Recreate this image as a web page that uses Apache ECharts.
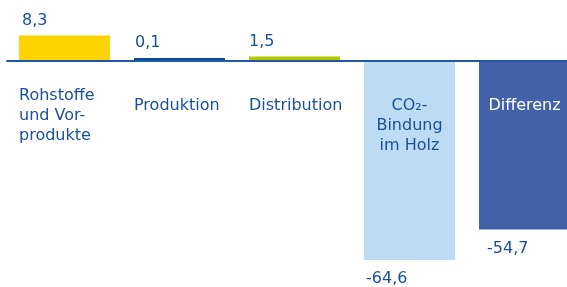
<!DOCTYPE html>
<html><head><meta charset="utf-8">
<script src="https://cdn.jsdelivr.net/npm/echarts@6/dist/echarts.min.js"></script>
<style>html,body{margin:0;padding:0;background:#fff}#c{width:567px;height:287px}</style>
</head><body><div id="c"></div>
<script>
// ---- data ----
const categories = ['Rohstoffe\nund Vor-\nprodukte', 'Produktion', 'Distribution', 'CO₂-\nBindung\nim Holz', 'Differenz'];
const values = [8.3, 0.1, 1.5, -64.6, -54.7];

// ---- styles ----
const barColors = ['#ffd300', '#0b4a99', '#b6c800', '#bddcf4', '#4261a9'];
const catAlign = ['left', 'left', 'left', 'center', 'center'];
const catWhite = [false, false, false, false, true];
const catPadTop = [0, 10, 10, 10, 10];
const valueShift = [3, 1, 0, 2, 8];
const textColor = '#1a4f9b';
const font = 'DejaVu Sans';
const fs = 16;

const chart = echarts.init(document.getElementById('c'), null, {renderer: 'canvas'});
chart.setOption({
  animation: false,
  grid: {left: 7, right: -15, top: 0, bottom: 226, containLabel: false, outerBoundsMode: 'none'},
  xAxis: {
    type: 'category',
    z: 5,
    data: categories.map((c, i) => ({value: c, textStyle: {padding: [catPadTop[i], 0, 0, 0]}})),
    axisLine: {onZero: true, lineStyle: {color: '#1f58a4', width: 2}},
    axisTick: {show: false},
    splitLine: {show: false},
    axisLabel: {
      interval: 0, margin: 25, fontFamily: font, fontSize: fs, lineHeight: 20, color: textColor,
      formatter: (v, i) => {
        const k = catAlign[i] === 'left' ? 'l' : (catWhite[i] ? 'w' : 'c');
        return v.split('\n').map(s => '{' + k + '|' + s + '}').join('\n');
      },
      rich: {
        l: {width: 91, align: 'left', fontFamily: font, fontSize: fs, lineHeight: 20, color: textColor},
        c: {align: 'center', fontFamily: font, fontSize: fs, lineHeight: 20, color: textColor},
        w: {align: 'center', fontFamily: font, fontSize: fs, lineHeight: 20, color: '#ffffff'}
      }
    }
  },
  yAxis: {type: 'value', min: 0, max: 19.8, show: false, splitLine: {show: false}},
  series: [{
    type: 'bar',
    clip: false,
    barWidth: 91,
    barMinHeight: 3,
    data: values.map((v, i) => ({
      value: v,
      itemStyle: {color: barColors[i]},
      label: {
        show: true,
        position: v >= 0 ? 'top' : 'bottom',
        distance: v >= 0 ? 7 : 11,
        align: 'left',
        offset: [-45.5 + valueShift[i], 0]
      }
    })),
    label: {
      show: true, fontFamily: font, fontSize: fs, color: textColor,
      formatter: p => String(p.value).replace('.', ',')
    }
  }]
});
</script>
</body></html>
